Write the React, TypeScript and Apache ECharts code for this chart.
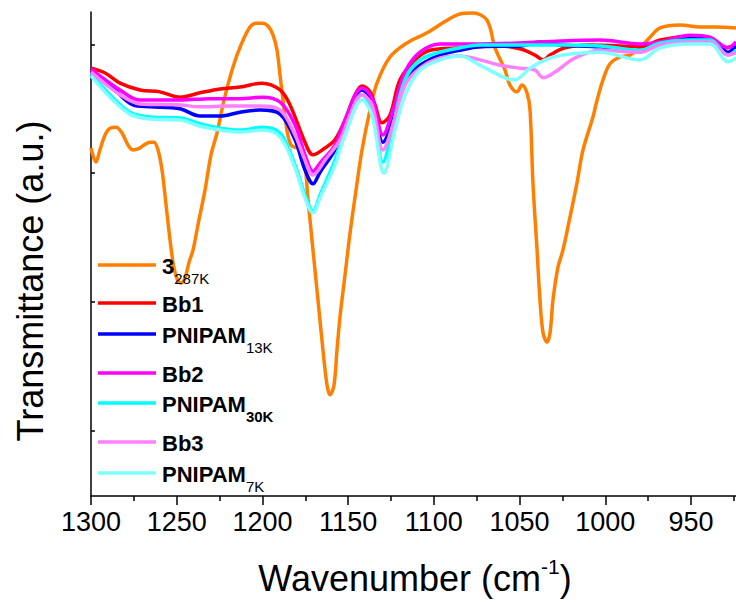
import React, { useEffect, useRef } from "react";
import * as echarts from "echarts";

const FONT = "'Liberation Sans', Arial, Helvetica, sans-serif";

// x range / ticks
const X_MIN = 923.75;
const X_MAX = 1300;
const X_MAJOR = [1300, 1250, 1200, 1150, 1100, 1050, 1000, 950];
const X_MINOR = [1275, 1225, 1175, 1125, 1075, 1025, 975, 925];
const Y_TICKS = [13.4, 40.1, 66.7, 93.2];

// 3_287K (orange)
const wn3 = [1300, 1297.1, 1294.8, 1291.8, 1288.9, 1285.4, 1281.9, 1278.4, 1275.5, 1272.6, 1269.1, 1265.6, 1263.3, 1260.9, 1258.6, 1256.2, 1253.9, 1251.6, 1249.25, 1247.5, 1245.2, 1242.8, 1240.5, 1237.6, 1233.5, 1230, 1226.5, 1222.4, 1217.2, 1212.5, 1207.25, 1203.75, 1200.25, 1196.75, 1193.8, 1191.5, 1189.75, 1188, 1185.7, 1183.3, 1179.8, 1176.3, 1173.4, 1170.5, 1167.6, 1164.7, 1162.3, 1160.6, 1158.25, 1156.5, 1154.75, 1151.8, 1148.9, 1145.4, 1141.9, 1137.25, 1133.2, 1125.6, 1115.7, 1104, 1092.3, 1084.75, 1077.2, 1069, 1064.3, 1058.5, 1055.6, 1051.5, 1048.6, 1045.7, 1043.9, 1042.2, 1039.8, 1038.1, 1036.3, 1034, 1032.25, 1030.5, 1027.6, 1024.7, 1020.6, 1016.5, 1013, 1007.2, 1004.8, 1001.3, 997.25, 991.4, 985.6, 979.75, 973.9, 968, 956.4, 944.75, 936, 923.75];
const t3 = [71.9, 69.0, 71.5, 74.6, 76.0, 76.2, 75.0, 72.5, 71.5, 71.7, 72.5, 73.1, 73.1, 71.5, 67.4, 60.1, 52.9, 47.1, 44.4, 44.0, 45.0, 48.3, 50.8, 56.0, 63.2, 70.5, 75.0, 81.8, 88.6, 93.2, 96.9, 97.7, 97.7, 97.1, 95.2, 92.1, 87.0, 81.8, 75.6, 72.5, 71.9, 71.5, 61.2, 50.8, 40.5, 30.2, 22.9, 20.9, 22.9, 30.2, 37.0, 45.7, 54.3, 63.2, 71.5, 79.75, 85.3, 90.7, 93.6, 95.7, 98.3, 99.6, 99.8, 98.3, 92.6, 88.0, 84.9, 83.5, 84.9, 83.3, 79.75, 64.7, 50.8, 40.5, 33.7, 31.8, 33.7, 40.5, 47.3, 50.8, 57.6, 64.7, 71.5, 78.3, 81.8, 86.0, 89.3, 90.7, 91.1, 92.6, 94.8, 96.7, 97.3, 96.9, 96.9, 96.7];

// Bb1 (red)
const wnBb1 = [1300, 1291.8, 1283.1, 1271.4, 1259.75, 1248.1, 1236.4, 1224.75, 1213.1, 1200.25, 1189.75, 1183.9, 1175.2, 1170.5, 1163.5, 1157.7, 1151.8, 1146, 1141.9, 1137.25, 1134.3, 1130.25, 1125.6, 1119.75, 1111, 1102.25, 1084.75, 1061.4, 1049.75, 1041, 1036.3, 1032.25, 1023.5, 1008.9, 991.4, 979.75, 968, 950.6, 938.9, 930.2, 923.75];
const tBb1 = [88.4, 87.4, 85.3, 83.9, 83.5, 82.4, 83.3, 84.1, 84.5, 85.3, 83.9, 80.8, 73.1, 70.5, 71.9, 73.6, 77.7, 82.9, 84.7, 83.5, 80.8, 77.1, 78.7, 86.0, 90.1, 92.1, 92.6, 93.0, 92.4, 91.1, 90.1, 91.1, 92.6, 93.2, 93.0, 92.8, 94.2, 95.0, 94.6, 92.6, 93.2];

// PNIPAM13K (blue)
const wnP13 = [1300, 1288.9, 1275.5, 1265.6, 1248.1, 1236.4, 1224.75, 1213.1, 1201.4, 1189.75, 1181, 1175.2, 1170.5, 1166.4, 1157.7, 1151.8, 1141.9, 1136.1, 1129.7, 1123.8, 1116.8, 1108.1, 1096.4, 1084.75, 1073.1, 1049.75, 1038.1, 1026.4, 1003.1, 979.75, 968, 950.6, 938.9, 928.4, 923.75];
const tP13 = [87.8, 84.9, 80.8, 80.4, 80.0, 78.5, 78.5, 79.3, 79.75, 78.9, 73.6, 67.4, 64.5, 66.9, 71.5, 76.7, 83.9, 81.8, 73.1, 77.7, 86.0, 89.0, 91.1, 92.1, 92.8, 93.0, 93.8, 93.2, 92.8, 91.9, 93.4, 94.6, 94.6, 91.7, 93.0];

// Bb2 (magenta)
const wnBb2 = [1300, 1283.1, 1271.4, 1248.1, 1230.6, 1213.1, 1200.25, 1189.75, 1181, 1175.2, 1170.5, 1166.4, 1157.7, 1151.8, 1141.9, 1136.1, 1129.7, 1123.8, 1116.8, 1108.1, 1096.4, 1073.1, 1049.75, 1026.4, 1003.1, 979.75, 968, 950.6, 938.9, 928.4, 923.75];
const tBb2 = [88.2, 83.9, 81.8, 81.8, 82.1, 82.1, 82.4, 81.4, 76.7, 70.5, 67.1, 68.8, 72.5, 77.7, 84.3, 82.3, 74.6, 79.75, 87.6, 91.7, 93.4, 93.4, 93.6, 94.0, 94.2, 93.4, 93.8, 95.2, 94.8, 92.6, 93.8];

// PNIPAM30K (cyan)
const wnP30 = [1300, 1288.9, 1277.3, 1265.6, 1248.1, 1236.4, 1224.75, 1213.1, 1200.25, 1189.75, 1181, 1175.2, 1170.5, 1166.4, 1157.7, 1151.8, 1141.9, 1136.1, 1129.7, 1123.8, 1116.8, 1108.1, 1096.4, 1084.75, 1073.1, 1049.75, 1026.4, 1003.1, 979.75, 968, 950.6, 938.9, 928.4, 923.75];
const tP30 = [87.2, 82.9, 79.3, 78.3, 78.1, 76.9, 76.0, 75.6, 76.2, 75.0, 68.4, 62.2, 58.9, 62.2, 69.4, 75.6, 82.9, 79.75, 69.0, 76.7, 86.0, 90.1, 91.7, 92.6, 93.2, 93.2, 93.2, 93.0, 92.1, 93.6, 94.2, 94.2, 91.1, 92.1];

// Bb3 (light magenta)
const wnBb3 = [1300, 1283.1, 1271.4, 1248.1, 1236.4, 1218.9, 1201.4, 1189.75, 1181, 1175.2, 1170.5, 1163.5, 1154.75, 1148.9, 1141.9, 1136.1, 1129.7, 1123.8, 1116.8, 1108.1, 1096.4, 1084.75, 1073.1, 1061.4, 1049.75, 1041, 1036.3, 1029.3, 1017.7, 1003.1, 979.75, 968, 950.6, 938.9, 928.4, 923.75];
const tBb3 = [87.6, 82.9, 81.0, 80.8, 80.4, 80.6, 80.6, 79.75, 74.6, 69.4, 66.3, 69.4, 73.6, 78.7, 82.9, 80.8, 71.5, 76.7, 84.9, 88.4, 90.5, 90.9, 90.1, 89.0, 88.4, 88.0, 86.4, 87.6, 90.5, 92.1, 91.7, 93.2, 93.8, 93.8, 91.1, 91.7];

// PNIPAM7K (light cyan)
const wnP7 = [1300, 1288.9, 1277.3, 1265.6, 1248.1, 1236.4, 1224.75, 1213.1, 1200.25, 1189.75, 1181, 1175.2, 1170.5, 1166.4, 1157.7, 1151.8, 1141.9, 1136.1, 1129.1, 1122.7, 1116.8, 1108.1, 1096.4, 1084.75, 1073.1, 1058.5, 1052.7, 1043.9, 1032.25, 1020.6, 1003.1, 979.75, 968, 950.6, 938.9, 928.4, 923.75];
const tP7 = [86.8, 82.4, 78.9, 77.9, 77.7, 76.4, 75.6, 75.2, 75.6, 74.2, 67.8, 61.6, 58.5, 61.6, 68.4, 74.6, 81.8, 78.7, 66.7, 75.6, 82.9, 88.0, 90.1, 90.9, 89.0, 86.4, 86.0, 88.4, 90.5, 91.3, 91.7, 90.1, 92.6, 93.4, 93.4, 89.7, 90.5];

const seriesDefs = [
  { name: "3_287K", main: "3", sub: "287K", subBold: false, color: "#FF7F00", wn: wn3, t: t3, ly: 265 },
  { name: "Bb1", main: "Bb1", sub: "", subBold: false, color: "#FF0000", wn: wnBb1, t: tBb1, ly: 303 },
  { name: "PNIPAM13K", main: "PNIPAM", sub: "13K", subBold: false, color: "#0000FF", wn: wnP13, t: tP13, ly: 334 },
  { name: "Bb2", main: "Bb2", sub: "", subBold: false, color: "#FF00FF", wn: wnBb2, t: tBb2, ly: 373 },
  { name: "PNIPAM30K", main: "PNIPAM", sub: "30K", subBold: true, color: "#00FFFF", wn: wnP30, t: tP30, ly: 403 },
  { name: "Bb3", main: "Bb3", sub: "", subBold: false, color: "#FF80FF", wn: wnBb3, t: tBb3, ly: 442 },
  { name: "PNIPAM7K", main: "PNIPAM", sub: "7K", subBold: false, color: "#80FFFF", wn: wnP7, t: tP7, ly: 473 },
];

function textWidth(text: string, font: string): number {
  const c = document.createElement("canvas").getContext("2d");
  if (!c) return text.length * 10;
  c.font = font;
  return c.measureText(text).width;
}

export default function App() {
  const ref = useRef<HTMLDivElement>(null);
  useEffect(() => {
    if (!ref.current) return;
    const chart = echarts.init(ref.current, undefined, { renderer: "svg" });

    const mainFont = `bold 22px ${FONT}`;
    const graphics: any[] = [];
    seriesDefs.forEach((s) => {
      graphics.push({
        type: "line",
        z: 100,
        shape: { x1: 98, y1: s.ly, x2: 156, y2: s.ly },
        style: { stroke: s.color, lineWidth: 3.5 },
      });
      graphics.push({
        type: "text",
        z: 100,
        x: 162,
        y: s.ly + 1,
        style: { text: s.main, font: mainFont, fill: "#000", verticalAlign: "middle", align: "left" },
      });
      if (s.sub) {
        const w = textWidth(s.main, mainFont);
        graphics.push({
          type: "text",
          z: 100,
          x: 162 + w,
          y: s.ly + 13,
          style: {
            text: s.sub,
            font: `${s.subBold ? "bold " : ""}15px ${FONT}`,
            fill: "#000",
            verticalAlign: "middle",
            align: "left",
          },
        });
      }
    });

    // axis titles
    graphics.push({
      type: "text",
      x: 30,
      y: 281,
      rotation: Math.PI / 2,
      style: { text: "Transmittance (a.u.)", font: `36px ${FONT}`, fill: "#000", align: "center", verticalAlign: "middle" },
    });
    const tFont = `36px ${FONT}`;
    const supFont = `21px ${FONT}`;
    const wMain = textWidth("Wavenumber (cm", tFont);
    const wSup = textWidth("-1", supFont);
    const wClose = textWidth(")", tFont);
    const total = wMain + wSup + wClose;
    const x0 = 415 - total / 2;
    graphics.push({
      type: "text",
      x: x0,
      y: 578,
      style: { text: "Wavenumber (cm", font: tFont, fill: "#000", align: "left", verticalAlign: "middle" },
    });
    graphics.push({
      type: "text",
      x: x0 + wMain,
      y: 566,
      style: { text: "-1", font: supFont, fill: "#000", align: "left", verticalAlign: "middle" },
    });
    graphics.push({
      type: "text",
      x: x0 + wMain + wSup,
      y: 578,
      style: { text: ")", font: tFont, fill: "#000", align: "left", verticalAlign: "middle" },
    });

    const tickStyle = { color: "#000", width: 1.5 };

    chart.setOption({
      animation: false,
      backgroundColor: "#fff",
      grid: { left: 91, right: 0, top: 12, bottom: 106, containLabel: false, outerBoundsMode: "none" },
      xAxis: [
        {
          type: "value",
          position: "bottom",
          min: X_MIN,
          max: X_MAX,
          inverse: true,
          axisLine: { show: true, onZero: false, lineStyle: tickStyle },
          axisTick: { show: true, length: 9, customValues: X_MAJOR, lineStyle: tickStyle },
          axisLabel: {
            fontSize: 27,
            color: "#000",
            fontFamily: FONT,
            margin: 12,
            customValues: X_MAJOR,
            formatter: (v: number) => String(v),
          },
          splitLine: { show: false },
        },
        {
          type: "value",
          position: "bottom",
          offset: 0,
          min: X_MIN,
          max: X_MAX,
          inverse: true,
          axisLine: { show: false, onZero: false },
          axisTick: { show: true, length: 5, customValues: X_MINOR, lineStyle: tickStyle },
          axisLabel: { show: false },
          splitLine: { show: false },
        },
      ],
      yAxis: {
        type: "value",
        min: 0,
        max: 100,
        axisLine: { show: true, onZero: false, lineStyle: tickStyle },
        axisTick: { show: true, inside: true, length: 4, customValues: Y_TICKS, lineStyle: tickStyle },
        axisLabel: { show: false },
        splitLine: { show: false },
      },
      series: seriesDefs.map((s, i) => ({
        name: s.name,
        type: "line",
        xAxisIndex: 0,
        data: s.wn.map((w, k) => [w, s.t[k]]),
        smooth: 0.35,
        showSymbol: false,
        symbol: "none",
        z: 2 + i,
        lineStyle: { color: s.color, width: 3.5 },
        itemStyle: { color: s.color },
      })),
      graphic: graphics,
    });

    return () => chart.dispose();
  }, []);

  return (
    <div
      ref={ref}
      style={{ position: "absolute", left: 0, top: 0, width: 736, height: 602, background: "#fff" }}
    />
  );
}
